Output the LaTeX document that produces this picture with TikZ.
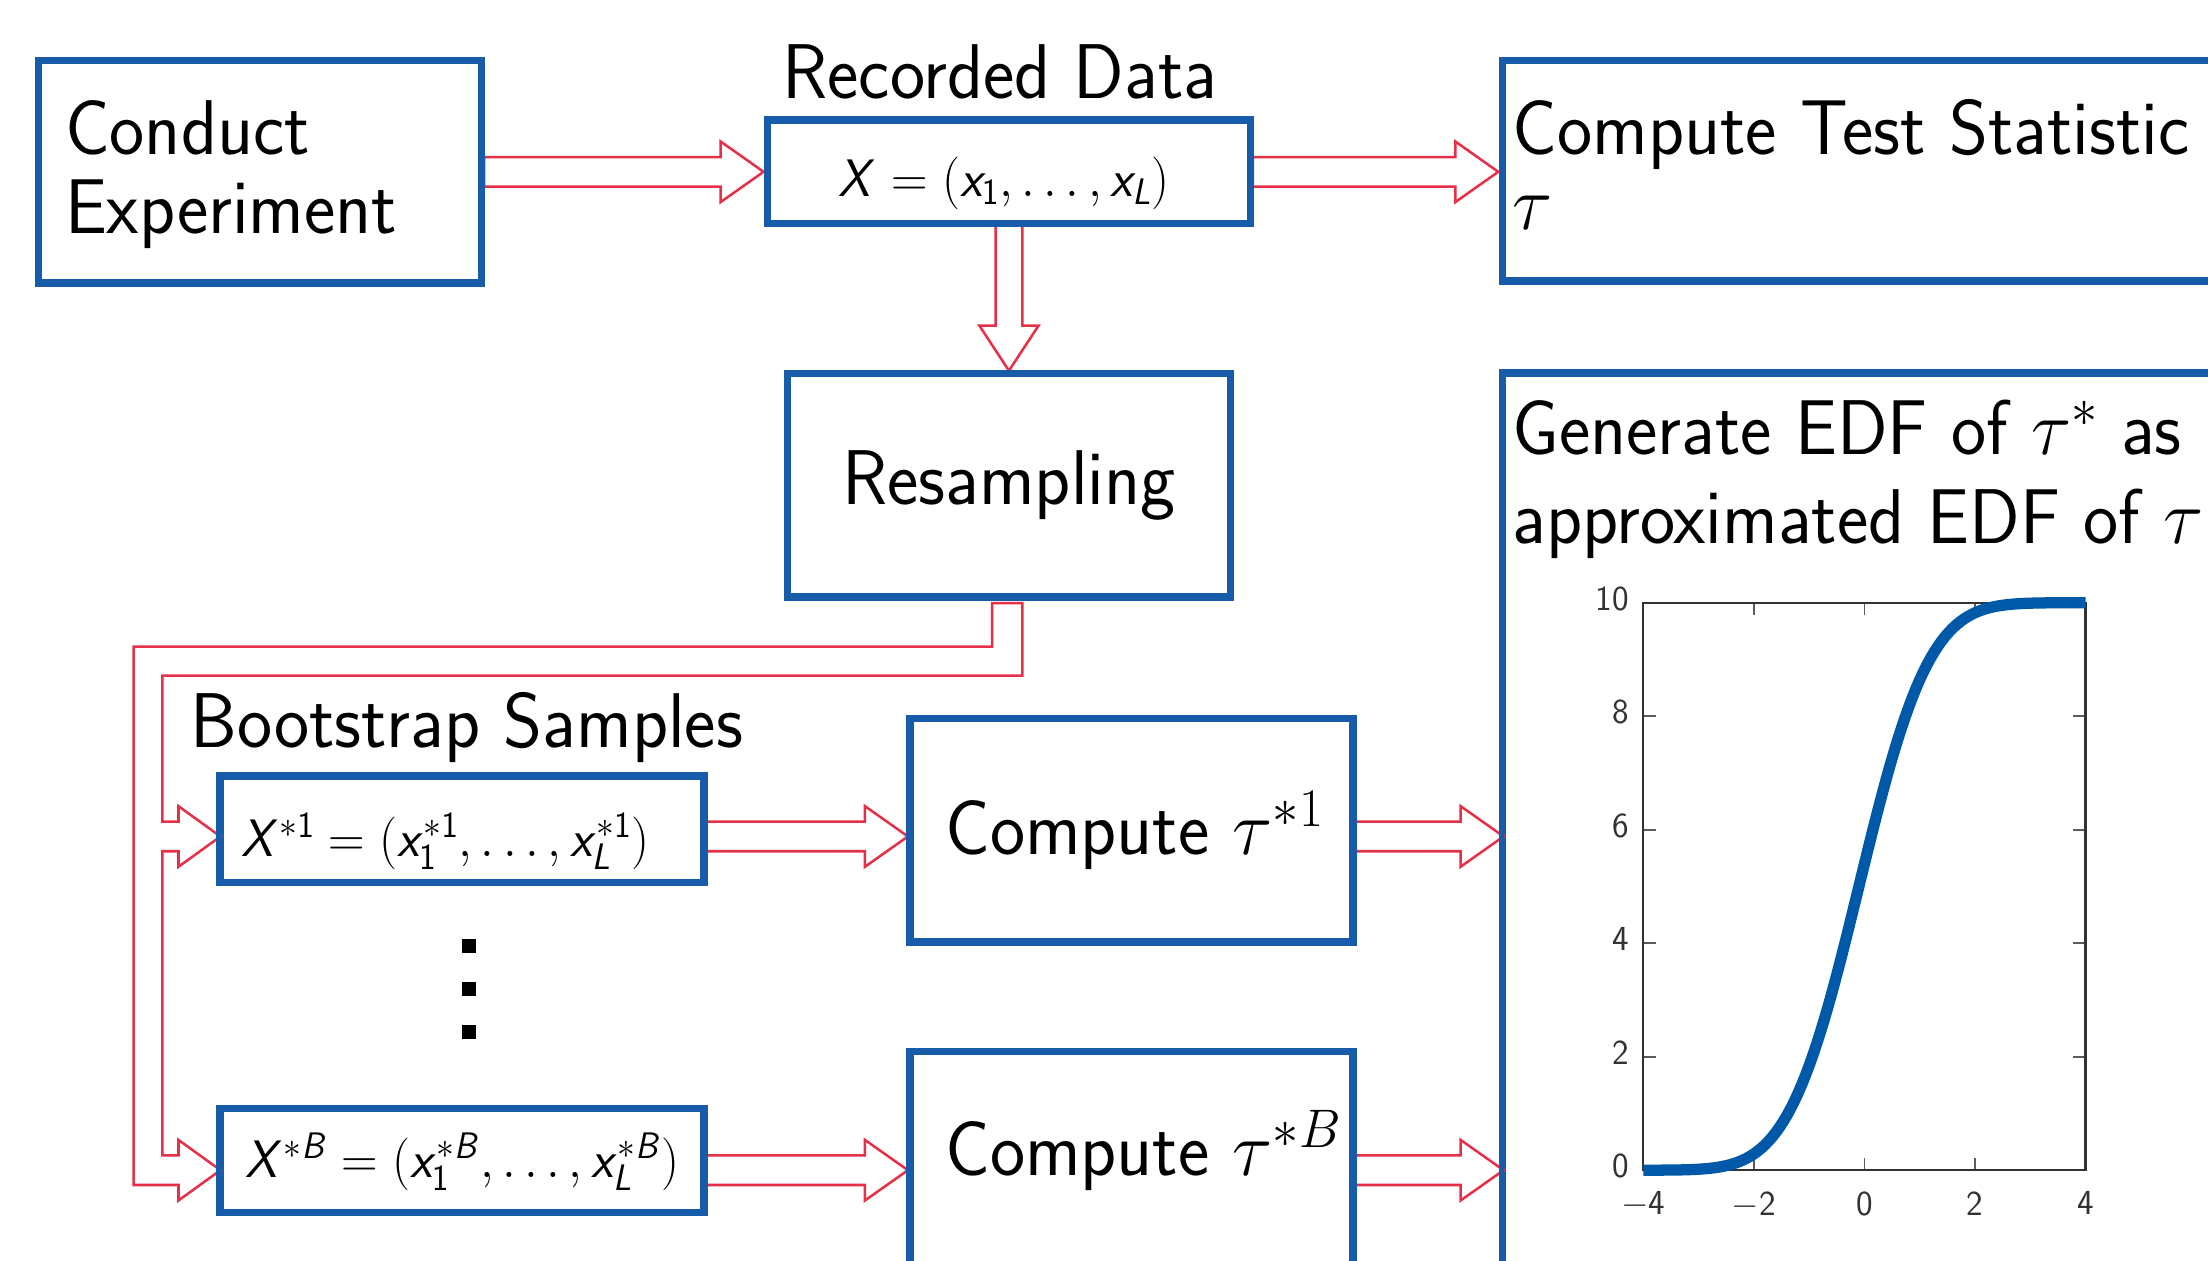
\RequirePackage{fix-cm}
\documentclass[tikz,border=0pt]{standalone}
\usepackage{graphicx}
\usetikzlibrary{calc}
\DeclareMathAlphabet{\mathsfit}{OT1}{cmss}{m}{sl}
\definecolor{boxblue}{RGB}{22,92,168}
\definecolor{curveblue}{RGB}{0,88,168}
\definecolor{arrred}{RGB}{230,48,72}
\definecolor{axgray}{RGB}{50,50,50}
\newcommand\tall[1]{\scalebox{1}[1.04]{#1}}
\newcommand\sX{\mathsfit{X}}
\newcommand\sx{\mathsfit{x}}
\newcommand\harrow[2]{%
 \draw[redarr] let \p1=(#1), \p2=(#2) in
 (\x1,\y1+10.5pt) -- (\x2-30.5pt,\y1+10.5pt) -- (\x2-30.5pt,\y1+21.5pt) -- (\x2,\y1)
 -- (\x2-30.5pt,\y1-21.5pt) -- (\x2-30.5pt,\y1-10.5pt) -- (\x1,\y1-10.5pt) -- cycle;}
\newcommand\varrow[2]{%
 \draw[redarr] let \p1=(#1), \p2=(#2) in
 (\x1-9.5pt,\y1) -- (\x1-9.5pt,\y2+32pt) -- (\x1-21pt,\y2+32pt) -- (\x1,\y2)
 -- (\x1+21pt,\y2+32pt) -- (\x1+9.5pt,\y2+32pt) -- (\x1+9.5pt,\y1) -- cycle;}
\begin{document}
\begin{tikzpicture}[x=1pt,y=-1pt,
  box/.style={draw=boxblue, line width=3.5pt, rectangle, inner sep=0pt},
  lbl/.style={inner sep=0pt, font=\fontsize{53}{60}\selectfont\sffamily},
  frm/.style={inner sep=0pt, font=\fontsize{36}{40}\selectfont\sffamily},
  redarr/.style={draw=arrred, line width=1.8pt, fill=white, line join=miter},
  ticklbl/.style={inner sep=0pt, font=\fontsize{25}{27}\selectfont\sffamily, text=axgray},
  tickmark/.style={draw=axgray!80, line width=1.2pt},
  dotsq/.style={fill=black, minimum size=10pt, inner sep=0pt, rectangle},
]
\useasboundingbox (0,0) rectangle (1568,895);
\clip (0,0) rectangle (1568,895);
\fill[white] (0,0) rectangle (1568,895);

% boxes (positions)
\node[box, minimum width=313pt, minimum height=156pt] (ce) at (184.5,122) {};
\node[box, minimum width=341pt, minimum height=72pt] (xd) at (716.5,122) {};
\node[box, minimum width=540pt, minimum height=155pt, anchor=north west] (cts) at (1066,42) {};
\node[box, minimum width=313pt, minimum height=157pt, font=\fontsize{53}{60}\selectfont\sffamily] (rs) at (716.5,344.5) {\tall{Resampling}};
\node[box, minimum width=540pt, minimum height=700pt, anchor=north west] (edf) at (1066,264) {};
\node[box, minimum width=342pt, minimum height=74pt] (s1) at (328,589) {};
\node[box, minimum width=342pt, minimum height=72pt] (sB) at (328,824) {};
\node[box, minimum width=313pt, minimum height=157pt] (c1) at (803.5,589.5) {};
\node[box, minimum width=313pt, minimum height=300pt, anchor=north] (cB) at (803.5,746) {};

% connector coordinates
\coordinate (a1s) at ($(ce.east)+(1,0)$);
\coordinate (a1e) at ($(xd.west)+(-2,0)$);
\coordinate (a2s) at ($(xd.east)+(1,0)$);
\coordinate (a2m) at (xd.east -| cts.west);
\coordinate (a2e) at ($(a2m)+(-2,0)$);
\coordinate (a3s) at (xd.south);
\coordinate (a3e) at ($(rs.north)+(0,-1)$);
\coordinate (a4s) at ($(s1.east)+(1,5)$);
\coordinate (a4m) at (a4s -| c1.west);
\coordinate (a4e) at ($(a4m)+(-0.5,0)$);
\coordinate (a5s) at ($(sB.east)+(1,7)$);
\coordinate (a5m) at (a5s -| cB.west);
\coordinate (a5e) at ($(a5m)+(-0.5,0)$);
\coordinate (a6m) at (a4s -| c1.east);
\coordinate (a6s) at ($(a6m)+(1,0)$);
\coordinate (a6n) at (a4s -| edf.west);
\coordinate (a6e) at ($(a6n)+(1.75,0)$);
\coordinate (a7m) at (a5s -| cB.east);
\coordinate (a7s) at ($(a7m)+(1,0)$);
\coordinate (a7n) at (a5s -| edf.west);
\coordinate (a7e) at ($(a7n)+(1.75,0)$);
\coordinate (bt) at ($(rs.south)+(0,3.5)$);
\coordinate (t1) at ($(s1.west)+(1.3,5)$);
\coordinate (tB) at ($(sB.west)+(1.3,7)$);

% hollow arrows
\harrow{a1s}{a1e}
\harrow{a2s}{a2e}
\varrow{a3s}{a3e}
\harrow{a4s}{a4e}
\harrow{a5s}{a5e}
\harrow{a6s}{a6e}
\harrow{a7s}{a7e}
\draw[redarr] let \p1=(bt), \p2=(t1), \p3=(tB) in
 (\x1-12pt,\y1) -- (\x1-12pt,\y1-31pt) -- (\x2-61.6pt,\y1-31pt) -- (\x2-61.6pt,\y3-10.5pt)
 -- (\x2-29.8pt,\y3-10.5pt) -- (\x2-29.8pt,\y3-21.5pt) -- (\x3,\y3) -- (\x2-29.8pt,\y3+21.5pt)
 -- (\x2-29.8pt,\y3+10.5pt) -- (\x2-41.2pt,\y3+10.5pt) -- (\x2-41.2pt,\y2-10.5pt)
 -- (\x2-29.8pt,\y2-10.5pt) -- (\x2-29.8pt,\y2-21.5pt) -- (\x2,\y2) -- (\x2-29.8pt,\y2+21.5pt)
 -- (\x2-29.8pt,\y2+10.5pt) -- (\x2-41.2pt,\y2+10.5pt) -- (\x2-41.2pt,\y1-51.5pt)
 -- (\x1+9.5pt,\y1-51.5pt) -- (\x1+9.5pt,\y1) -- cycle;

% redraw box borders on top
\foreach \b in {ce,xd,cts,rs,edf,s1,sB,c1,cB}{
  \draw[boxblue, line width=3.5pt] (\b.south west) rectangle (\b.north east);
}

% texts
\node[lbl, anchor=base west] (tce1) at (46,110) {\tall{Conduct}};
\node[lbl, anchor=base west] (tce2) at (46,166) {\tall{Experiment}};
\node[lbl, anchor=base] (trd) at (710,70) {\tall{Recorded Data}};
\node[frm, anchor=base] (txd) at (713,139.5) {\tall{$\sX = (\sx_{\mathsf{1}}, \ldots, \sx_{\mathsfit{L}})$}};
\node[lbl, anchor=base west] (tcts1) at (1074,110) {\tall{Compute Test Statistic}};
\node[lbl, anchor=base west] (tcts2) at (1074,163) {\tall{$\tau$}};
\node[lbl, anchor=base west] (tedf1) at (1074,323) {\tall{Generate EDF of $\tau^*$ as}};
\node[lbl, anchor=base west] (tedf2) at (1074,386) {\tall{approximated EDF of $\tau$}};
\node[lbl, anchor=base west] (tbs) at (135,531) {\tall{Bootstrap Samples}};
\node[frm, anchor=base west] (ts1) at (171,608) {\tall{$\sX^{*\mathsf{1}} = (\sx_{\mathsf{1}}^{*\mathsf{1}}, \ldots, \sx_{\mathsfit{L}}^{*\mathsf{1}})$}};
\node[frm, anchor=base west] (tsB) at (174,836.5) {\tall{$\sX^{*\mathsfit{B}} = (\sx_{\mathsf{1}}^{*\mathsfit{B}}, \ldots, \sx_{\mathsfit{L}}^{*\mathsfit{B}})$}};
\node[lbl, anchor=base west] (tc1) at (671,607) {\tall{Compute $\tau^{*1}$}};
\node[lbl, anchor=base west] (tcB) at (671,835) {\tall{Compute $\tau^{*B}$}};

% vertical dots
\node[dotsq] (dotA) at (333,672) {};
\node[dotsq] (dotB) at (333,702) {};
\node[dotsq] (dotC) at (333,733) {};

% plot
\foreach \u in {-2,0,2}{
  \draw[tickmark] ({1324+39.25*\u},831) -- ++(0,-9);
  \draw[tickmark] ({1324+39.25*\u},428) -- ++(0,9);
}
\foreach \v in {2,4,6,8}{
  \draw[tickmark] (1167,{831-40.3*\v}) -- ++(9,0);
  \draw[tickmark] (1481,{831-40.3*\v}) -- ++(-9,0);
}
\draw[axgray, line width=1.6pt] (1167,428) rectangle (1481,831);
\foreach \v in {0,2,4,6,8,10}{
  \node[ticklbl, anchor=east] (yl\v) at (1157,{828-40.3*\v}) {\v};
}
\foreach \u/\t [count=\i] in {-4/{$-$4},-2/{$-$2},0/0,2/2,4/4}{
  \node[ticklbl, anchor=north] (xl\i) at ({1324+39.25*\u},846) {\t};
}
\draw[curveblue, line width=8pt] plot[variable=\u, domain=-4:4, samples=121]
  ({1324+39.25*\u}, {831-403*0.5*(1+tanh(0.7978845608*((\u+0.1)+0.044715*(\u+0.1)*(\u+0.1)*(\u+0.1))))});
\end{tikzpicture}
\end{document}
